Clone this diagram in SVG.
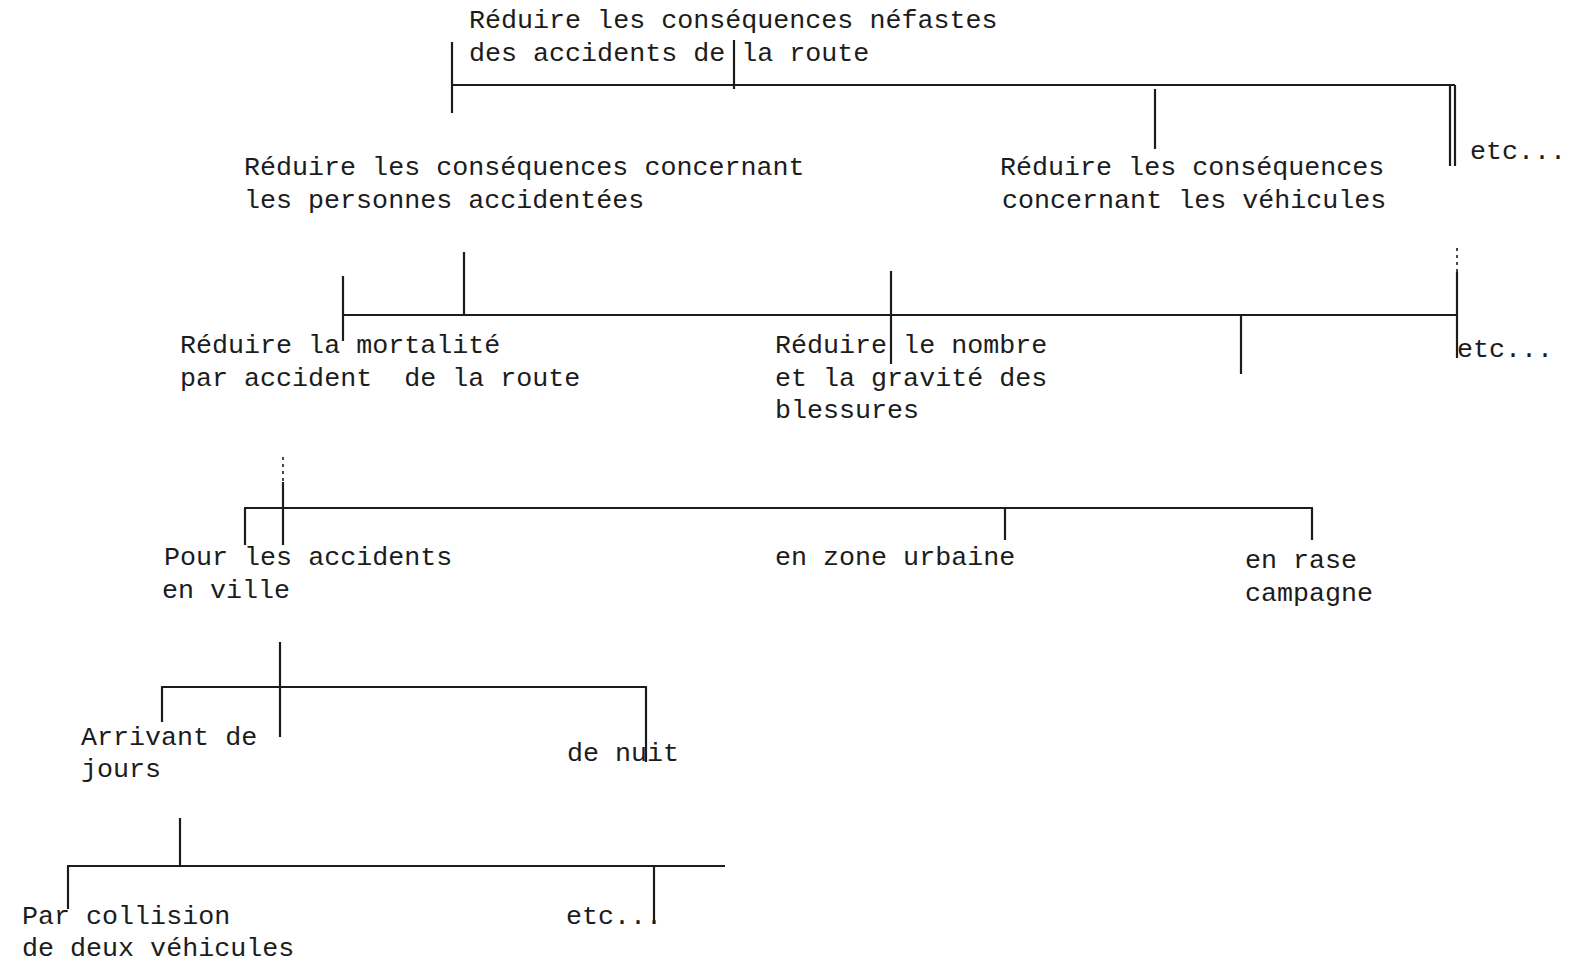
<svg xmlns="http://www.w3.org/2000/svg" width="1583" height="962" viewBox="0 0 1583 962">
<style>
text{font-family:"Liberation Mono","DejaVu Sans Mono",monospace;font-size:26.7px;fill:#1c1c1c;white-space:pre}
.c line{stroke:#1c1c1c;stroke-width:2.2;stroke-linecap:butt}
.c line.d{stroke-width:1.6;stroke-dasharray:3 4}
</style>
<rect width="1583" height="962" fill="#fff"/>
<g class="c" id="connectors">
<line x1="452" y1="42" x2="452" y2="113"/>
<line x1="734" y1="40" x2="734" y2="89"/>
<line x1="451" y1="85" x2="1455" y2="85"/>
<line x1="1450" y1="85" x2="1450" y2="166"/>
<line x1="1455" y1="85" x2="1455" y2="166"/>
<line x1="1155" y1="89" x2="1155" y2="149"/>
<line x1="464" y1="252" x2="464" y2="315"/>
<line x1="343" y1="276" x2="343" y2="341"/>
<line x1="342" y1="315" x2="1457" y2="315"/>
<line x1="891" y1="271" x2="891" y2="364"/>
<line x1="1241" y1="315" x2="1241" y2="374"/>
<line class="d" x1="1457" y1="248" x2="1457" y2="272"/>
<line x1="1457" y1="272" x2="1457" y2="358"/>
<line class="d" x1="283" y1="457" x2="283" y2="482"/>
<line x1="283" y1="482" x2="283" y2="545"/>
<line x1="245" y1="508" x2="245" y2="545"/>
<line x1="244" y1="508" x2="1313" y2="508"/>
<line x1="1005" y1="508" x2="1005" y2="540"/>
<line x1="1312" y1="508" x2="1312" y2="540"/>
<line x1="280" y1="642" x2="280" y2="737"/>
<line x1="162" y1="687" x2="162" y2="722"/>
<line x1="161" y1="687" x2="647" y2="687"/>
<line x1="646" y1="687" x2="646" y2="762"/>
<line x1="180" y1="818" x2="180" y2="866"/>
<line x1="67" y1="866" x2="725" y2="866"/>
<line x1="68" y1="866" x2="68" y2="909"/>
<line x1="654" y1="866" x2="654" y2="924"/>
</g>
<g id="n1"><text x="469" y="28">Réduire les conséquences néfastes</text><text x="469" y="61">des accidents de la route</text></g>
<g id="n2"><text x="244" y="175">Réduire les conséquences concernant</text><text x="244" y="208">les personnes accidentées</text></g>
<g id="n3"><text x="1000" y="175">Réduire les conséquences</text><text x="1002" y="208">concernant les véhicules</text></g>
<g id="n4"><text x="1470" y="159">etc...</text></g>
<g id="n5"><text x="180" y="353">Réduire la mortalité</text><text x="180" y="386" xml:space="preserve">par accident  de la route</text></g>
<g id="n6"><text x="775" y="353">Réduire le nombre</text><text x="775" y="386">et la gravité des</text><text x="775" y="418">blessures</text></g>
<g id="n7"><text x="1457" y="357">etc...</text></g>
<g id="n8"><text x="164" y="565">Pour les accidents</text><text x="162" y="598">en ville</text></g>
<g id="n9"><text x="775" y="565">en zone urbaine</text></g>
<g id="n10"><text x="1245" y="568">en rase</text><text x="1245" y="601">campagne</text></g>
<g id="n11"><text x="81" y="745">Arrivant de</text><text x="81" y="777">jours</text></g>
<g id="n12"><text x="567" y="761">de nuit</text></g>
<g id="n13"><text x="22" y="924">Par collision</text><text x="22" y="956">de deux véhicules</text></g>
<g id="n14"><text x="566" y="924">etc...</text></g>
</svg>
